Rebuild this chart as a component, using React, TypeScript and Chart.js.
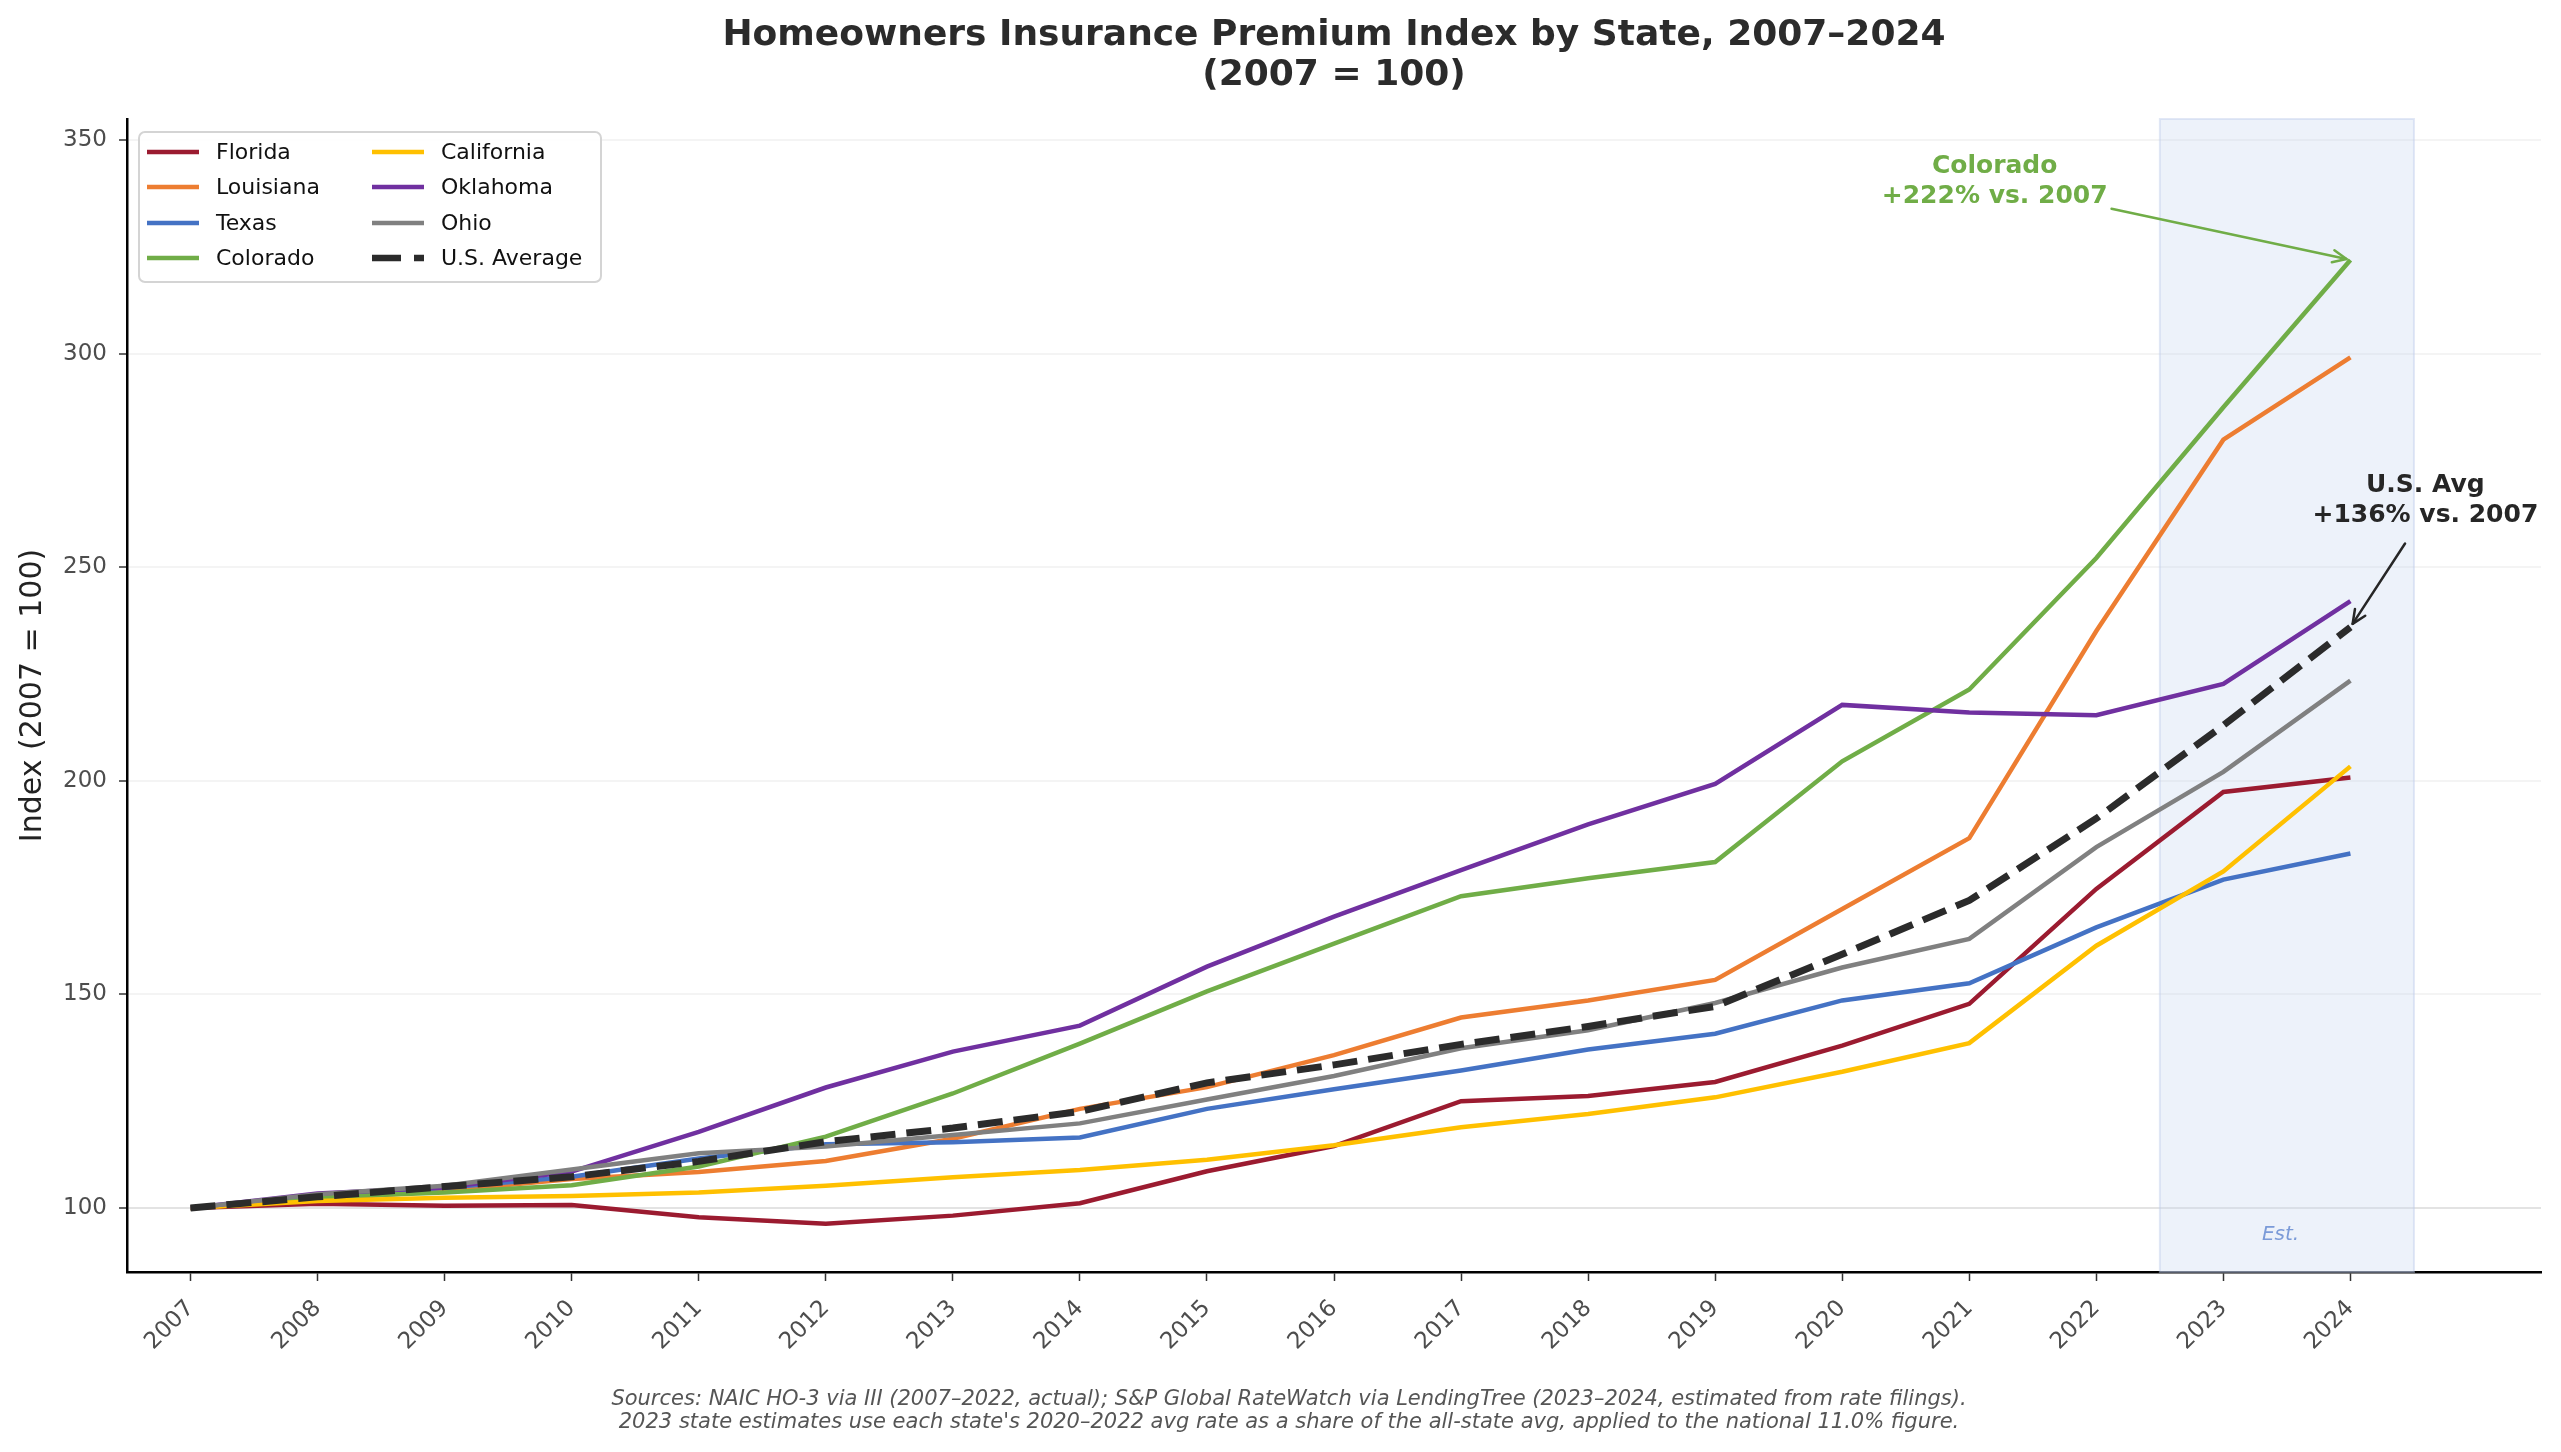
import React, { useEffect, useRef } from 'react';
import { Chart, registerables } from 'chart.js';

Chart.register(...registerables);

// ---- data ---------------------------------------------------------------
const YEARS = [2007, 2008, 2009, 2010, 2011, 2012, 2013, 2014, 2015, 2016, 2017, 2018, 2019, 2020, 2021, 2022, 2023, 2024];
const Y_TICKS = [100, 150, 200, 250, 300, 350];

const FLORIDA = [100, 101.0, 100.5, 100.7, 97.8, 96.3, 98.2, 101.1, 108.6, 114.5, 125.0, 126.2, 129.5, 138.0, 147.8, 174.7, 197.4, 200.8];
const LOUISIANA = [100, 102.0, 104.0, 106.8, 108.4, 111.0, 116.2, 123.2, 128.3, 135.8, 144.6, 148.6, 153.4, 170.0, 186.6, 235.1, 279.9, 299.2];
const TEXAS = [100, 102.5, 104.7, 107.3, 111.6, 114.9, 115.4, 116.5, 123.2, 127.8, 132.2, 137.1, 140.8, 148.6, 152.6, 165.7, 176.9, 183.0];
const COLORADO = [100, 102.5, 103.6, 105.3, 109.7, 116.7, 126.8, 138.5, 150.7, 161.9, 173.0, 177.2, 181.0, 204.6, 221.4, 252.2, 287.5, 322.0];
const CALIFORNIA = [100, 101.6, 102.4, 102.8, 103.6, 105.2, 107.2, 108.9, 111.3, 114.7, 118.9, 122.0, 125.9, 131.9, 138.6, 161.4, 178.8, 203.4];
const OKLAHOMA = [100, 103.4, 104.8, 108.5, 117.8, 128.2, 136.6, 142.7, 156.5, 168.2, 179.1, 189.8, 199.3, 217.8, 216.0, 215.4, 222.7, 242.1];
const OHIO = [100, 103.2, 105.2, 109.0, 112.8, 114.4, 117.1, 119.8, 125.4, 130.9, 137.4, 141.6, 148.0, 156.3, 163.0, 184.5, 202.1, 223.5];
const US_AVERAGE = [100, 102.6, 105.0, 107.3, 110.9, 115.5, 118.7, 122.6, 129.3, 133.5, 138.3, 142.5, 147.2, 159.4, 172.0, 191.2, 213.0, 236.0];

const SERIES_NAMES = ['Florida', 'Louisiana', 'Texas', 'Colorado', 'California', 'Oklahoma', 'Ohio', 'U.S. Average'];
const SERIES_VALUES = [FLORIDA, LOUISIANA, TEXAS, COLORADO, CALIFORNIA, OKLAHOMA, OHIO, US_AVERAGE];
const SERIES_COLORS = ['#9b1b30', '#ed7d31', '#4472c4', '#70ad47', '#ffc000', '#7030a0', '#808080', '#2b2b2b'];

// estimated years (shaded band)
const EST_START = 2022.5;
const EST_END = 2024.5;

const TITLE_LINES = ['Homeowners Insurance Premium Index by State, 2007\u20132024', '(2007 = 100)'];
const Y_LABEL = 'Index (2007 = 100)';
const FOOTER_LINES = [
  'Sources: NAIC HO-3 via III (2007\u20132022, actual); S&P Global RateWatch via LendingTree (2023\u20132024, estimated from rate filings).',
  "2023 state estimates use each state's 2020\u20132022 avg rate as a share of the all-state avg, applied to the national 11.0% figure.",
];

const FONT = '"DejaVu Sans", "Liberation Sans", sans-serif';
const US_DASH = [25, 11];

// annotation anchors in data units
const CO_NOTE = { lines: ['Colorado', '+222% vs. 2007'], text: [2021.2, 340.4], tail: [2022.12, 334.0], head: [2024, 322.0], color: '#70ad47' };
const US_NOTE = { lines: ['U.S. Avg', '+136% vs. 2007'], text: [2024.59, 265.6], tail: [2024.43, 255.6], head: [2024, 236.0], color: '#262626' };

function drawArrow(ctx: CanvasRenderingContext2D, x1: number, y1: number, x2: number, y2: number, color: string, shrink: number) {
  const ang = Math.atan2(y2 - y1, x2 - x1);
  const ex = x2 - Math.cos(ang) * shrink;
  const ey = y2 - Math.sin(ang) * shrink;
  ctx.save();
  ctx.strokeStyle = color;
  ctx.lineWidth = 2.5;
  ctx.lineCap = 'round';
  ctx.lineJoin = 'round';
  ctx.beginPath();
  ctx.moveTo(x1, y1);
  ctx.lineTo(ex, ey);
  ctx.stroke();
  const hl = 15;
  const spread = 0.42;
  ctx.beginPath();
  ctx.moveTo(ex - hl * Math.cos(ang - spread), ey - hl * Math.sin(ang - spread));
  ctx.lineTo(ex, ey);
  ctx.lineTo(ex - hl * Math.cos(ang + spread), ey - hl * Math.sin(ang + spread));
  ctx.stroke();
  ctx.restore();
}

const decorations = {
  id: 'decorations',
  beforeDatasetsDraw(chart: any) {
    const { ctx, chartArea, scales } = chart;
    const x0 = scales.x.getPixelForValue(EST_START);
    const x1 = scales.x.getPixelForValue(EST_END);
    ctx.save();
    ctx.fillStyle = 'rgba(200, 214, 240, 0.32)';
    ctx.fillRect(x0, chartArea.top, x1 - x0, chartArea.bottom - chartArea.top);
    ctx.strokeStyle = 'rgba(190, 205, 235, 0.45)';
    ctx.lineWidth = 2;
    ctx.strokeRect(x0, chartArea.top, x1 - x0, chartArea.bottom - chartArea.top);
    ctx.font = `italic 20px ${FONT}`;
    ctx.fillStyle = '#7b9bd8';
    ctx.textAlign = 'center';
    ctx.textBaseline = 'middle';
    ctx.fillText('Est.', scales.x.getPixelForValue((EST_START + EST_END) / 2 - 0.05), scales.y.getPixelForValue(93.6));
    ctx.restore();
  },
  afterDatasetsDraw(chart: any) {
    const { ctx, scales } = chart;
    const px = (v: number) => scales.x.getPixelForValue(v);
    const py = (v: number) => scales.y.getPixelForValue(v);
    for (const note of [CO_NOTE, US_NOTE]) {
      ctx.save();
      ctx.font = `bold 25px ${FONT}`;
      ctx.fillStyle = note.color;
      ctx.textAlign = 'center';
      ctx.textBaseline = 'middle';
      const tx = px(note.text[0]);
      const ty = py(note.text[1]);
      ctx.fillText(note.lines[0], tx, ty - 15);
      ctx.fillText(note.lines[1], tx, ty + 15);
      ctx.restore();
      drawArrow(ctx, px(note.tail[0]), py(note.tail[1]), px(note.head[0]), py(note.head[1]), note.color, 4);
    }
  },
  afterDraw(chart: any) {
    const { ctx, chartArea } = chart;
    ctx.save();
    // title
    const cx = (chartArea.left + chartArea.right) / 2;
    ctx.font = `bold 36px ${FONT}`;
    ctx.fillStyle = '#2b2b2b';
    ctx.textAlign = 'center';
    ctx.textBaseline = 'middle';
    ctx.fillText(TITLE_LINES[0], cx, 36);
    ctx.fillText(TITLE_LINES[1], cx, 76);

    // footer
    ctx.font = `italic 21px ${FONT}`;
    ctx.fillStyle = '#555555';
    ctx.fillText(FOOTER_LINES[0], 1289, 1400);
    ctx.fillText(FOOTER_LINES[1], 1289, 1423);

    // legend
    const bx = 139, by = 132, bw = 462, bh = 150;
    ctx.beginPath();
    ctx.roundRect(bx, by, bw, bh, 6);
    ctx.fillStyle = 'rgba(255,255,255,0.85)';
    ctx.fill();
    ctx.strokeStyle = '#d4d4d4';
    ctx.lineWidth = 2;
    ctx.stroke();
    ctx.font = `22px ${FONT}`;
    ctx.textAlign = 'left';
    ctx.textBaseline = 'middle';
    const rows = [152, 187, 223, 258];
    SERIES_NAMES.forEach((name, i) => {
      const col = Math.floor(i / 4);
      const row = i % 4;
      const lx = col === 0 ? 147 : 372;
      const ly = rows[row];
      const isAvg = i === SERIES_NAMES.length - 1;
      ctx.beginPath();
      ctx.strokeStyle = SERIES_COLORS[i];
      ctx.lineWidth = isAvg ? 6.5 : 4.5;
      ctx.setLineDash(isAvg ? [29, 13] : []);
      ctx.moveTo(lx, ly);
      ctx.lineTo(lx + 52, ly);
      ctx.stroke();
      ctx.setLineDash([]);
      ctx.fillStyle = '#111111';
      ctx.fillText(name, lx + 69, ly + 1);
    });
    ctx.restore();
  },
};

export default function App() {
  const canvasRef = useRef<HTMLCanvasElement>(null);

  useEffect(() => {
    const canvas = canvasRef.current;
    if (!canvas) return;
    const n = SERIES_NAMES.length;
    const datasets = SERIES_NAMES.map((name, i) => {
      const isAvg = i === n - 1;
      return {
        label: name,
        data: YEARS.map((yr, j) => ({ x: yr, y: SERIES_VALUES[i][j] })),
        borderColor: SERIES_COLORS[i],
        backgroundColor: SERIES_COLORS[i],
        borderWidth: isAvg ? 7 : 4.5,
        borderDash: isAvg ? US_DASH : [],
        pointRadius: 0,
        pointHoverRadius: 0,
        tension: 0,
        fill: false,
        order: n - 1 - i,
      };
    });

    const chart = new Chart(canvas, {
      type: 'line',
      data: { datasets },
      options: {
        animation: false,
        responsive: false,
        devicePixelRatio: 1,
        layout: { padding: { left: 0, top: 119, right: 20, bottom: 80 } },
        plugins: {
          legend: { display: false },
          title: { display: false },
          tooltip: { enabled: false },
        },
        scales: {
          x: {
            type: 'linear',
            min: 2006.5,
            max: 2025.5,
            afterBuildTicks: (scale: any) => {
              scale.ticks = YEARS.map((v) => ({ value: v }));
            },
            afterFit: (scale: any) => {
              scale.height = 100;
            },
            ticks: {
              autoSkip: false,
              minRotation: 45,
              maxRotation: 45,
              padding: 14,
              color: '#4d4d4d',
              font: { family: FONT, size: 23 },
              callback: (v: any) => String(v),
            },
            grid: {
              drawOnChartArea: false,
              drawTicks: true,
              tickLength: 9,
              tickColor: '#333333',
              tickWidth: 1.5,
            },
            border: { display: true, color: '#000000', width: 2.5 },
          },
          y: {
            type: 'linear',
            min: 85,
            max: 355,
            afterBuildTicks: (scale: any) => {
              scale.ticks = Y_TICKS.map((v) => ({ value: v }));
            },
            afterFit: (scale: any) => {
              scale.width = 127;
            },
            ticks: {
              padding: 12,
              color: '#4d4d4d',
              font: { family: FONT, size: 23 },
              callback: (v: any) => String(v),
            },
            grid: {
              drawOnChartArea: true,
              color: (ctx: any) => (ctx.tick && ctx.tick.value === 100 ? '#e3e3e3' : '#f4f4f4'),
              lineWidth: 2,
              tickLength: 8,
              tickColor: '#333333',
              tickWidth: 1.5,
            },
            border: { display: true, color: '#000000', width: 2.5 },
            title: {
              display: true,
              text: Y_LABEL,
              color: '#222222',
              font: { family: FONT, size: 30 },
              padding: { top: 15, bottom: 0 },
            },
          },
        },
      },
      plugins: [decorations],
    } as any);

    return () => chart.destroy();
  }, []);

  return (
    <div style={{ position: 'absolute', left: 0, top: 0, width: 2561, height: 1452, background: '#ffffff' }}>
      <canvas ref={canvasRef} width={2561} height={1452} style={{ display: 'block', width: 2561, height: 1452 }} />
    </div>
  );
}
